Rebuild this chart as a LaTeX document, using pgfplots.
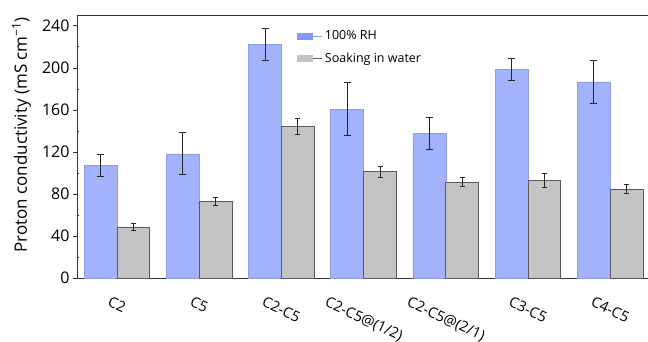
\documentclass[border=0pt]{standalone}
\usepackage{pgfplots}
\pgfplotsset{compat=1.18}
\usepackage{fontspec}
\setmainfont{Open Sans}

\definecolor{rhblue}{HTML}{A3B2FD}
\definecolor{rhedge}{HTML}{8E9CE0}
\definecolor{rhlegend}{HTML}{8596F8}
\definecolor{wgray}{HTML}{C4C4C4}
\definecolor{wedge}{HTML}{5A5A5A}

% slanted category label
\newcommand\slant[1]{\rotatebox{-25}{#1}}

% group  value  error
\pgfplotstableread{
x  y      e
0  107    10
1  118    20
2  222    15
3  160.5  25
4  137.5  15
5  198    10.3
6  186.5  20.3
}\rhdata
\pgfplotstableread{
x  y      e
0  48.5   3.2
1  72.5   3.8
2  144    7.5
3  101    5
4  91     4.4
5  93     6.6
6  84.5   4.2
}\waterdata

\begin{document}
\begin{tikzpicture}
\path[use as bounding box] (-77pt,-63pt) rectangle (571pt,278pt);
\begin{axis}[
  scale only axis,
  width=571pt, height=263pt,
  at={(0pt,0pt)}, anchor=south west,
  xmin=-0.487, xmax=6.459,
  ymin=0, ymax=250,
  ybar=0pt,
  bar width=0.4,
  axis lines=left,
  axis line style={-, line width=0.9pt, black!80},
  ytick={0,40,...,240},
  minor y tick num=1,
  tick align=outside,
  major tick length=4pt,
  minor tick length=2.5pt,
  minor tick style={xshift=2.5pt, black!80},
  major tick style={black!80},
  xtick={0,...,6},
  xticklabels={\slant{C2},\slant{C5},\slant{C2-C5},\slant{C2-C5@(1/2)},
    \slant{C2-C5@(2/1)},\slant{C3-C5},\slant{C4-C5}},
  xtick style={draw=none},
  xticklabel style={font=\fontsize{14.6}{16}\selectfont,
    anchor=north, inner sep=0pt, yshift=-14pt},
  yticklabel style={font=\fontsize{16}{18}\selectfont},
  /pgf/number format/assume math mode=true,
  ylabel={Proton conductivity (mS cm\textsuperscript{−1})},
  ylabel style={font=\fontsize{17}{18}\selectfont,
    at={(axis description cs:-0.097,0.544)}, anchor=center},
  legend style={draw=none, fill=none, at={(axis description cs:0.385,0.948)},
    anchor=north west, font=\fontsize{12.5}{14}\selectfont,
    row sep=7.5pt, inner sep=0pt},
  legend cell align=left,
  clip=false,
]
\addplot[fill=rhblue, draw=rhedge, line width=0.6pt,
  area legend,
  legend image code/.code={\path (0pt,0pt) -- (25pt,0pt);
    \fill[rhlegend] (0pt,-3pt) rectangle (15pt,3pt);},
  error bars/.cd, y dir=both, y explicit,
  error bar style={line width=0.9pt, black!85},
  error mark options={rotate=90, mark size=3.5pt, line width=0.9pt, black!85}]
  table[x=x, y=y, y error=e] {\rhdata};
\addlegendentry{100\% RH}
\addplot[fill=wgray, draw=wedge, line width=0.9pt,
  area legend,
  legend image code/.code={\path (0pt,0pt) -- (25pt,0pt);
    \fill[wgray] (0pt,-3pt) rectangle (15pt,3pt);},
  error bars/.cd, y dir=both, y explicit,
  error bar style={line width=0.9pt, black!85},
  error mark options={rotate=90, mark size=2.5pt, line width=0.9pt, black!85}]
  table[x=x, y=y, y error=e] {\waterdata};
\addlegendentry{Soaking in water}
\draw[line width=0.9pt, black!80] (rel axis cs:0,1) -- (rel axis cs:1,1);
\end{axis}
\end{tikzpicture}
\end{document}
